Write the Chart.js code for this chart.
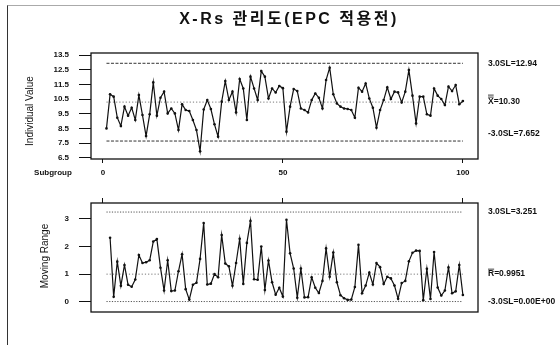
<!DOCTYPE html>
<html>
<head>
<meta charset="utf-8">
<script src="https://cdn.jsdelivr.net/npm/chart.js@4.4.0/dist/chart.umd.min.js"></script>
<style>
  body { margin: 0; background: #fff; width: 560px; height: 345px; overflow: hidden; position: relative; }
  #frame { position: absolute; left: 7px; top: 5px; width: 560px; height: 345px; border-left: 1.5px solid #333; border-top: 1px solid #aaa; }
  #c1 { position: absolute; left: 0; top: 0; }
  #c2 { position: absolute; left: 0; top: 185px; }
</style>
</head>
<body>
<div id="frame"></div>
<canvas id="c1" width="560" height="185"></canvas>
<canvas id="c2" width="560" height="160"></canvas>
<script>
// X-Rs control chart (before EPC)
var chartTitle = 'X-Rs 관리도(EPC 적용전)';

// individual values, subgroups 1..100
var individuals = [
  8.51, 10.83, 10.67, 9.24, 8.67, 9.99, 9.38, 9.92, 9.08, 10.78,
  9.42, 7.99, 9.47, 11.64, 9.38, 10.60, 11.01, 9.53, 9.87, 9.53,
  8.40, 10.15, 9.76, 9.69, 9.08, 8.40, 6.95, 9.80, 10.44, 9.83,
  8.79, 7.95, 10.33, 11.73, 10.44, 11.01, 9.60, 11.87, 11.23, 9.08,
  12.03, 11.23, 10.44, 12.41, 12.03, 10.55, 11.23, 10.95, 11.40, 11.25,
  8.29, 9.99, 11.19, 11.05, 9.87, 9.76, 9.60, 10.44, 10.89, 10.60,
  9.87, 11.80, 12.64, 10.83, 10.21, 9.99, 9.87, 9.83, 9.76, 9.24,
  11.28, 11.01, 11.57, 10.55, 9.92, 8.56, 9.76, 10.44, 11.30, 10.51,
  11.01, 10.96, 10.28, 11.01, 12.48, 10.74, 8.85, 10.67, 10.67, 9.47,
  9.38, 11.23, 10.74, 10.51, 10.10, 11.35, 11.05, 11.46, 10.15, 10.37
];

// moving ranges, subgroups 2..100
var movingRanges = [
  2.32, 0.17, 1.45, 0.57, 1.33, 0.61, 0.54, 0.80, 1.69,
  1.40, 1.43, 1.50, 2.18, 2.27, 1.23, 0.40, 1.50, 0.38, 0.40,
  1.10, 1.72, 0.45, 0.07, 0.61, 0.68, 1.55, 2.85, 0.62, 0.65,
  1.00, 0.88, 2.42, 1.38, 1.28, 0.57, 1.40, 2.28, 0.64, 2.13,
  2.93, 0.81, 0.79, 2.00, 0.42, 1.49, 0.70, 0.25, 0.50, 0.18,
  2.97, 1.75, 1.20, 0.14, 1.20, 0.15, 0.16, 0.88, 0.50, 0.31,
  0.75, 1.93, 0.90, 1.78, 0.70, 0.23, 0.12, 0.06, 0.07, 0.53,
  2.06, 0.30, 0.58, 1.05, 0.62, 1.40, 1.25, 0.64, 0.90, 0.84,
  0.58, 0.10, 0.67, 0.75, 1.46, 1.77, 1.85, 1.84, 0.05, 1.19,
  0.09, 1.80, 0.51, 0.22, 0.40, 1.24, 0.30, 0.37, 1.33, 0.24
];

// control limits
var xUCL = 12.94, xCL = 10.30, xLCL = 7.652;
var rUCL = 3.251, rCL = 0.9951, rLCL = 0;

// tick labels
var xTicks = [0, 50, 100];
var yTicksTop = [6.5, 7.5, 8.5, 9.5, 10.5, 11.5, 12.5, 13.5];
var yTicksBottom = [0, 1, 2, 3];

var FONT = "'Liberation Sans', Arial, sans-serif";
var INK = '#111';

function pts(values, startAt) {
  return values.map(function (v, i) { return { x: i + startAt, y: v }; });
}
function hline(v, dash, color) {
  return {
    data: [{ x: 1, y: v }, { x: 100, y: v }],
    borderColor: color, borderWidth: 1, borderDash: dash,
    pointRadius: 0, fill: false
  };
}
function fixedTicks(list) {
  return function (scale) { scale.ticks = list.map(function (v) { return { value: v }; }); };
}

// box around plot area + limit labels + free text
var decorPlugin = {
  id: 'decor',
  afterDraw: function (chart) {
    var o = chart.options.plugins.decor;
    var a = chart.chartArea, ctx = chart.ctx, ys = chart.scales.y;
    ctx.save();
    ctx.strokeStyle = INK;
    ctx.lineWidth = 1.3;
    ctx.strokeRect(a.left, a.top, a.right - a.left, a.bottom - a.top);

    ctx.fillStyle = INK;
    ctx.textBaseline = 'middle';
    ctx.textAlign = 'left';
    ctx.font = 'bold 8.5px ' + FONT;
    o.limits.forEach(function (l) {
      var y = ys.getPixelForValue(l.value) + (l.dy || 0);
      var x = 488;
      if (l.sym) {
        ctx.fillText(l.sym, x, y);
        var w = ctx.measureText(l.sym).width;
        ctx.lineWidth = 0.8;
        for (var b = 0; b < l.bars; b++) {
          var by = y - 5 - b * 2;
          ctx.beginPath(); ctx.moveTo(x, by); ctx.lineTo(x + w, by); ctx.stroke();
        }
        x += w;
      }
      ctx.fillText(l.text, x, y);
    });

    o.texts.forEach(function (t) {
      ctx.save();
      ctx.translate(t.x, t.y);
      if (t.rot) ctx.rotate(t.rot);
      ctx.font = t.font;
      if (t.ls) ctx.letterSpacing = t.ls;
      ctx.textAlign = 'center';
      ctx.textBaseline = 'middle';
      ctx.fillText(t.text, 0, 0);
      ctx.restore();
    });
    ctx.restore();
  }
};

var tickFont = { family: FONT, size: 8, weight: 'bold' };

// ---- Individual value chart ----
new Chart(document.getElementById('c1'), {
  type: 'line',
  data: {
    datasets: [
      {
        data: pts(individuals, 1),
        borderColor: INK, borderWidth: 1.2,
        pointRadius: 1.3, pointBackgroundColor: INK, pointBorderWidth: 0,
        tension: 0, fill: false
      },
      hline(xUCL, [3, 1.5], '#333'),
      hline(xCL, [1.2, 2], '#777'),
      hline(xLCL, [3, 1.5], '#333')
    ]
  },
  options: {
    responsive: false, animation: false,
    layout: { padding: { left: 0, right: 82, top: 53, bottom: 0 } },
    plugins: {
      legend: { display: false }, tooltip: { enabled: false },
      decor: {
        limits: [
          { text: '3.0SL=12.94', value: xUCL },
          { sym: 'X', bars: 2, text: '=10.30', value: xCL },
          { text: '-3.0SL=7.652', value: xLCL, dy: -7 }
        ],
        texts: [
          { text: chartTitle, x: 289, y: 20, ls: '2.5px', font: 'bold 16px ' + FONT + ", 'Noto Sans CJK KR'" },
          { text: 'Individual Value', x: 30, y: 111, rot: -Math.PI / 2, font: '10px ' + FONT },
          { text: 'Subgroup', x: 53, y: 173, font: 'bold 8px ' + FONT }
        ]
      }
    },
    scales: {
      x: {
        type: 'linear', min: -3.3, max: 104.2,
        afterBuildTicks: fixedTicks(xTicks),
        afterFit: function (s) { s.height = 26; },
        grid: { drawOnChartArea: false, drawTicks: true, tickLength: 4, color: INK },
        border: { display: false },
        ticks: { font: tickFont, color: INK, padding: 5, maxRotation: 0 }
      },
      y: {
        min: 6.43, max: 13.64,
        afterBuildTicks: fixedTicks(yTicksTop),
        afterFit: function (s) { s.width = 91; },
        grid: { drawOnChartArea: false, drawTicks: true, tickLength: 12, color: INK },
        border: { display: false },
        ticks: { font: tickFont, color: INK, padding: 10, callback: function (v) { return v.toFixed(1); } }
      }
    }
  },
  plugins: [decorPlugin]
});

// ---- Moving range chart ----
new Chart(document.getElementById('c2'), {
  type: 'line',
  data: {
    datasets: [
      {
        data: pts(movingRanges, 2),
        borderColor: INK, borderWidth: 1.2,
        pointRadius: 1.3, pointBackgroundColor: INK, pointBorderWidth: 0,
        tension: 0, fill: false
      },
      hline(rUCL, [1.2, 1.5], '#555'),
      hline(rCL, [1.2, 2], '#777'),
      hline(rLCL, [1.2, 1.5], '#555')
    ]
  },
  options: {
    responsive: false, animation: false,
    layout: { padding: { left: 0, right: 82, top: 0, bottom: 33 } },
    plugins: {
      legend: { display: false }, tooltip: { enabled: false },
      decor: {
        limits: [
          { text: '3.0SL=3.251', value: rUCL },
          { sym: 'R', bars: 1, text: '=0.9951', value: rCL },
          { text: '-3.0SL=0.00E+00', value: rLCL }
        ],
        texts: [
          { text: 'Moving Range', x: 45, y: 71, rot: -Math.PI / 2, font: '10px ' + FONT }
        ]
      }
    },
    scales: {
      x: {
        type: 'linear', position: 'top', min: -3.3, max: 104.2,
        afterBuildTicks: fixedTicks(xTicks),
        afterFit: function (s) { s.height = 18; },
        grid: { drawOnChartArea: false, drawTicks: true, tickLength: 5, color: INK },
        border: { display: false },
        ticks: { display: false }
      },
      y: {
        min: -0.38, max: 3.58,
        afterBuildTicks: fixedTicks(yTicksBottom),
        afterFit: function (s) { s.width = 91; },
        grid: { drawOnChartArea: false, drawTicks: true, tickLength: 12, color: INK },
        border: { display: false },
        ticks: { font: tickFont, color: INK, padding: 10 }
      }
    }
  },
  plugins: [decorPlugin]
});
</script>
</body>
</html>
